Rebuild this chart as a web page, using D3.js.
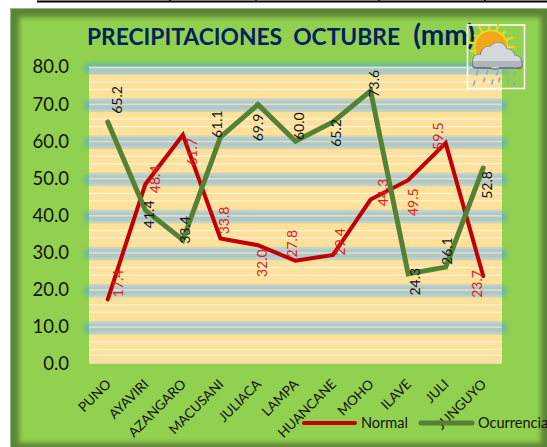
<!DOCTYPE html>
<html><head><meta charset="utf-8">
<script src="https://cdnjs.cloudflare.com/ajax/libs/d3/7.8.5/d3.min.js"></script>
<style>html,body{margin:0;padding:0;background:#fff;overflow:hidden}svg{display:block}text{font-family:Lato,"Open Sans",sans-serif}</style>
</head><body><svg id="c" width="547" height="447"></svg>
<script>
const categories=["PUNO","AYAVIRI","AZANGARO","MACUSANI","JULIACA","LAMPA","HUANCANE","MOHO","ILAVE","JULI","JUNGUYO"];
const normal=[17.4,48.4,61.7,33.8,32.0,27.8,29.4,44.3,49.5,59.5,23.7];
const ocurrencia=[65.2,41.4,33.4,61.1,69.9,60.0,65.2,73.6,24.3,26.1,52.8];
const yTicks=[0,10,20,30,40,50,60,70,80];
const titleMain="PRECIPITACIONES\u00A0\u00A0OCTUBRE\u00A0\u00A0";
const titleUnit="(mm)";

// label nudges relative to each point (layout only)
const nudgeNormal=[[10,-16],[9,-5],[9,17],[3,-18],[4,18],[-4,-17],[6,-13],[12,-7],[4,22],[-8,-7],[-7,8]];
const nudgeOcurr=[[9,-22],[3,4],[2,-10],[-4,-13],[0,23],[3,-15],[2,11],[3,-7],[6,8],[1,-16],[3,17]];

const svg=d3.select("#c");
const W=547,H=447,L=89,R=502,T=67,B=364;
const defs=svg.append("defs");
defs.append("filter").attr("id","b3").attr("x","-10%").attr("y","-10%").attr("width","120%").attr("height","120%")
  .append("feGaussianBlur").attr("stdDeviation",2.5);
defs.append("filter").attr("id","b2").attr("x","-50%").attr("y","-50%").attr("width","200%").attr("height","200%")
  .append("feGaussianBlur").attr("stdDeviation",2);
const bg=defs.append("linearGradient").attr("id","band").attr("x1",0).attr("x2",0).attr("y1",0).attr("y2",1);
[[0,"#d2d8c6"],[.3,"#afc8c0"],[.7,"#afc8c0"],[1,"#d0d7c4"]].forEach(s=>bg.append("stop").attr("offset",s[0]).attr("stop-color",s[1]));
const clip=defs.append("clipPath").attr("id","frame");
clip.append("rect").attr("x",10).attr("y",8).attr("width",W-10).attr("height",H-8);

const x=d3.scaleBand().domain(categories).range([L,R]);
const y=d3.scaleLinear().domain([0,80]).range([B,T]);
const cx=c=>x(c)+x.bandwidth()/2;

// stray table rule above the chart
svg.append("rect").attr("x",37).attr("y",0.5).attr("width",W-37).attr("height",2).attr("fill","#000");
[170,256,379,485].forEach(v=>svg.append("rect").attr("x",v-.75).attr("y",0).attr("width",1.5).attr("height",2).attr("fill","#000"));

// frame
const fr=svg.append("g").attr("clip-path","url(#frame)");
fr.append("rect").attr("x",10).attr("y",8).attr("width",W-10).attr("height",H-8).attr("fill","#5a8538");
fr.append("rect").attr("x",19).attr("y",17).attr("width",522).attr("height",426).attr("fill","#92d050").attr("filter","url(#b3)");
svg.append("path").attr("d",`M10.5 ${H}V8.5H${W}`).attr("fill","none").attr("stroke","#9dbb84").attr("stroke-width",1);

// teal glow at gridline ends
const glow=svg.append("g").attr("filter","url(#b2)");
yTicks.filter(v=>v>0).forEach(v=>{
  glow.append("rect").attr("x",L-5).attr("y",y(v)-3).attr("width",R-L+10).attr("height",9).attr("fill","#62bd9c");
});
glow.append("rect").attr("x",L).attr("y",T-4).attr("width",R-L).attr("height",6).attr("fill","#62bd9c");

// plot area
const plot=svg.append("g");
plot.append("rect").attr("x",L).attr("y",T).attr("width",R-L).attr("height",B-T).attr("fill","#ffe199");
yTicks.forEach(v=>{
  const g=y(v);
  if(v>0){
    const top=Math.max(T,g-6);
    plot.append("rect").attr("x",L).attr("y",top).attr("width",R-L).attr("height",g+8-top).attr("fill","url(#band)");
    plot.append("rect").attr("x",L).attr("y",g-.5).attr("width",R-L).attr("height",1.6).attr("fill","#dcdcdc");
    [15,22.5].forEach(o=>plot.append("rect").attr("x",L).attr("y",g+o-.7).attr("width",R-L).attr("height",1.4).attr("fill","#f6f0e0"));
  } else {
    plot.append("rect").attr("x",L).attr("y",g-1).attr("width",R-L).attr("height",1).attr("fill","#dcdccc");
    plot.append("rect").attr("x",L).attr("y",g-9.5).attr("width",R-L).attr("height",1.4).attr("fill","#f6f0e0");
  }
});

// title
const ttl=svg.append("text").attr("x",87).attr("y",45).attr("font-size",22.8).attr("font-weight",700).attr("fill","#002060");
ttl.append("tspan").text(titleMain);
ttl.append("tspan").attr("dx",2).attr("font-size",28).text(titleUnit);

// y axis
const yAxis=svg.append("g").attr("transform",`translate(${L},0)`)
  .call(d3.axisLeft(y).tickValues(yTicks).tickFormat(d3.format(".1f")).tickSize(0).tickPadding(20));
yAxis.select(".domain").remove();
yAxis.selectAll("text").attr("font-size",18.5).attr("fill","#111").style("font-family","Lato");

// x axis
const xAxis=svg.append("g").attr("transform",`translate(0,${B})`)
  .call(d3.axisBottom(x).tickSize(0).tickFormat(d=>d));
xAxis.select(".domain").remove();
xAxis.selectAll("text").attr("font-size",13.5).attr("fill","#111").style("font-family","Lato")
  .attr("text-anchor","end").attr("dy",0)
  .attr("transform","translate(4,21) rotate(-45)").attr("y",0).attr("x",0);

// lines
const line=d3.line().x((d,i)=>cx(categories[i])).y(d=>y(d));
const gl=svg.append("g").attr("fill","none").attr("stroke-linecap","round").attr("stroke-linejoin","miter");
gl.append("path").attr("d",line(normal)).attr("stroke","#c00000").attr("stroke-width",4);
gl.append("path").attr("d",line(ocurrencia)).attr("stroke","#558135").attr("stroke-width",5);

// data labels
function labels(vals,nudge,color){
  svg.append("g").selectAll("text").data(vals).join("text")
    .attr("text-anchor","middle").attr("dominant-baseline","central")
    .attr("font-size",14).attr("fill",color)
    .attr("transform",(d,i)=>`translate(${cx(categories[i])+nudge[i][0]},${y(d)+nudge[i][1]}) rotate(-90)`)
    .text(d=>d3.format(".1f")(d));
}
labels(normal,nudgeNormal,"#dc2020");
labels(ocurrencia,nudgeOcurr,"#111");

// legend
const leg=svg.append("g");
leg.append("line").attr("x1",304).attr("x2",355).attr("y1",423).attr("y2",423).attr("stroke","#c00000").attr("stroke-width",4).attr("stroke-linecap","round");
leg.append("text").attr("x",361).attr("y",428).attr("font-size",14.5).attr("fill","#111").text("Normal");
leg.append("line").attr("x1",421).attr("x2",472).attr("y1",423).attr("y2",423).attr("stroke","#558135").attr("stroke-width",5).attr("stroke-linecap","round");
leg.append("text").attr("x",478).attr("y",428).attr("font-size",14.5).attr("fill","#111").text("Ocurrencia");

// weather icon
const ic=svg.append("g");
ic.append("rect").attr("x",467.5).attr("y",25).attr("width",57).attr("height",63.5).attr("fill","none").attr("stroke","#fff").attr("stroke-width",1.6);
const sun=[491,47];
d3.range(0,360,24).forEach(a=>{
  const r=a*Math.PI/180;
  ic.append("line").attr("x1",sun[0]+17*Math.cos(r)).attr("y1",sun[1]+17*Math.sin(r))
    .attr("x2",sun[0]+(a%48?21:24)*Math.cos(r)).attr("y2",sun[1]+(a%48?21:24)*Math.sin(r))
    .attr("stroke","#e8d820").attr("stroke-width",2.4);
});
ic.append("circle").attr("cx",sun[0]).attr("cy",sun[1]).attr("r",16.5).attr("fill","#f0a818").attr("stroke","#f0dc30").attr("stroke-width",1.5);
const cloud=[[479,61,6],[489,55,8],[498,52,9],[507,57,7.5],[515,62,6],[495,61,8]];
cloud.forEach(c=>ic.append("circle").attr("cx",c[0]).attr("cy",c[1]).attr("r",c[2]+1).attr("fill","#6f7a80"));
ic.append("rect").attr("x",472).attr("y",60).attr("width",51).attr("height",9).attr("rx",4).attr("fill","#6f7a80");
cloud.forEach(c=>ic.append("circle").attr("cx",c[0]).attr("cy",c[1]-.5).attr("r",c[2]).attr("fill","#d4d8da"));
ic.append("rect").attr("x",473).attr("y",61).attr("width",49).attr("height",6).attr("rx",3).attr("fill","#aeb6ba");
[[477,73],[487,72],[497,73],[508,73],[514,74],[474,83],[484,80],[492,82],[499,80],[508,81],[514,84]].forEach(p=>
  ic.append("line").attr("x1",p[0]+1).attr("y1",p[1]-2.5).attr("x2",p[0]-.5).attr("y2",p[1]+2.5).attr("stroke","#8fa9bd").attr("stroke-width",1.6));
</script></body></html>
